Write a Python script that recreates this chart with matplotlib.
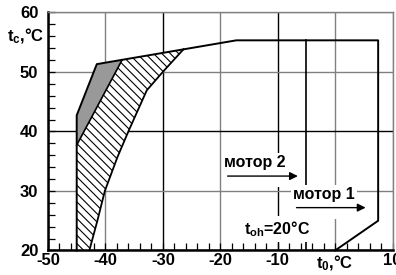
import numpy as np
import matplotlib
matplotlib.use('Agg')
import matplotlib.pyplot as plt
from matplotlib.ticker import MultipleLocator

plt.rcParams['font.family'] = ['Liberation Sans', 'DejaVu Sans']
plt.rcParams['font.weight'] = 'bold'
plt.rcParams['mathtext.fontset'] = 'custom'
plt.rcParams['mathtext.rm'] = 'Liberation Sans:bold'
plt.rcParams['mathtext.default'] = 'rm'
plt.rcParams['hatch.linewidth'] = 0.8

# outer envelope (motor 1)
outer_x = [-45, -45, -41.5, -17.2, 7.5, 7.5, 0]
outer_y = [20, 42.7, 51.3, 55.3, 55.3, 25, 20]
# motor 2 right limit
m2_x = [-5, -5]
m2_y = [55.3, 20]
# gray zone
gray_x = [-45, -45, -41.5, -37.1]
gray_y = [37.7, 42.7, 51.3, 52.0]
# right boundary of hatched zone
curve_x = [-42.8, -41.4, -40.1, -37.9, -36.0, -32.8, -30.0, -26.4]
curve_y = [20, 25, 30, 35.7, 40, 46.9, 50, 53.8]

xticks = [-50, -40, -30, -20, -10, 0, 10]
xlabels = ['-50', '-40', '-30', '-20', '-10', 't$_0$,°C', '10']
yticks = [20, 30, 40, 50, 60]
xgrid_col = ['k', '#808080', 'k', '#808080', 'k', '#808080', '#808080']
ygrid_col = ['k', '#808080', 'k', '#808080', '#808080']

fig = plt.figure(figsize=(3.96, 2.75), dpi=100)
ax = fig.add_axes([0.1212, 0.0891, 0.870, 0.866])
ax.set_xlim(-50, 10)
ax.set_ylim(20, 60)

ax.set_xticks(xticks)
ax.set_xticklabels(xlabels)
ax.set_yticks(yticks)
ax.xaxis.set_minor_locator(MultipleLocator(2))
ax.yaxis.set_minor_locator(MultipleLocator(2))
ax.tick_params(which='both', direction='in', length=5, width=0.9, top=False, right=False,
               labelsize=12)
ax.tick_params(axis='x', pad=2)
ax.tick_params(axis='y', pad=7)

ax.grid(True, which='major', linewidth=1.0)
for gl, c in zip(ax.xaxis.get_gridlines(), xgrid_col):
    gl.set_color(c)
for gl, c in zip(ax.yaxis.get_gridlines(), ygrid_col):
    gl.set_color(c)

for s in ['left', 'bottom']:
    ax.spines[s].set_linewidth(1.8)
for s in ['top', 'right']:
    ax.spines[s].set_color('#808080')
    ax.spines[s].set_linewidth(1.0)

# hatched zone
hx = [-45, -45, gray_x[-1]] + curve_x[::-1]
hy = [20, gray_y[0], gray_y[-1]] + curve_y[::-1]
ax.fill(hx, hy, facecolor='white', edgecolor='k', linewidth=0, hatch='\\\\\\\\', zorder=2)
ax.plot(curve_x, curve_y, color='k', lw=1.3, zorder=3)

# gray zone
ax.fill(gray_x, gray_y, facecolor='#999999', edgecolor='none', zorder=2)
ax.plot([gray_x[0], gray_x[-1]], [gray_y[0], gray_y[-1]], color='k', lw=1.2, zorder=3)

ax.plot(outer_x, outer_y, color='k', lw=1.4, zorder=3, clip_on=False)
ax.plot(m2_x, m2_y, color='k', lw=1.2, zorder=3)

# labels
box = dict(facecolor='white', edgecolor='none', pad=1.5)
ax.text(-19.3, 36.0, 'мотор 2\n', fontsize=11.5, va='top', ha='left',
        bbox=box, zorder=5, linespacing=0.95)
ax.annotate('', xy=(-6.0, 32.5), xytext=(-19.2, 32.5),
            arrowprops=dict(arrowstyle='-|>', color='k', lw=1.0, mutation_scale=12), zorder=6)
ax.text(-7.3, 30.6, 'мотор 1\n', fontsize=11.5, va='top', ha='left',
        bbox=box, zorder=5, linespacing=0.95)
ax.annotate('', xy=(5.8, 27.2), xytext=(-7.2, 27.2),
            arrowprops=dict(arrowstyle='-|>', color='k', lw=1.0, mutation_scale=12), zorder=6)
ax.text(-10.1, 23.6, 't$_{oh}$=20°C', fontsize=11.5, va='center', ha='center',
        bbox=dict(facecolor='white', edgecolor='none', pad=2), zorder=5)

ax.text(-50.6, 56.0, 't$_c$,°C', fontsize=12, va='center', ha='right',
        clip_on=False)

fig.savefig('out.png', dpi=100)
